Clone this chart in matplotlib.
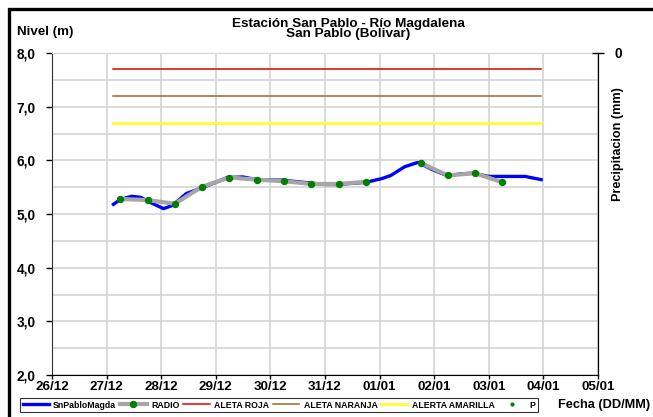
import matplotlib
matplotlib.use('Agg')
import matplotlib.pyplot as plt
import matplotlib.dates as mdates
import matplotlib.patches as mpatches
import pandas as pd
import numpy as np

plt.rcParams['font.family'] = ['Liberation Sans', 'DejaVu Sans']
plt.rcParams['font.weight'] = 'bold'

# Nivel SnPabloMagda (m)
nivel_fechas = ['2010-12-27 03:00', '2010-12-27 06:00', '2010-12-27 11:00', '2010-12-27 15:00',
                '2010-12-27 19:00', '2010-12-28 01:00', '2010-12-28 05:00', '2010-12-28 11:00',
                '2010-12-28 18:00', '2010-12-29 00:00', '2010-12-29 05:00', '2010-12-29 12:00',
                '2010-12-29 18:00', '2010-12-30 05:00', '2010-12-30 17:00', '2010-12-31 00:00',
                '2010-12-31 05:00', '2010-12-31 18:00', '2010-12-31 22:00', '2011-01-01 01:00',
                '2011-01-01 05:00', '2011-01-01 11:00', '2011-01-01 16:00', '2011-01-01 17:00',
                '2011-01-01 23:00', '2011-01-02 06:00', '2011-01-02 12:00', '2011-01-02 17:00',
                '2011-01-03 00:00', '2011-01-03 16:00', '2011-01-03 23:00']
nivel_valores = [5.18, 5.27, 5.33, 5.31, 5.22, 5.10, 5.16, 5.38, 5.49, 5.59, 5.68, 5.69,
                 5.64, 5.63, 5.58, 5.55, 5.55, 5.59, 5.63, 5.66, 5.72, 5.88, 5.95, 5.96,
                 5.83, 5.71, 5.75, 5.76, 5.70, 5.70, 5.64]

# Lecturas RADIO (m), NaN = sin dato
radio_fechas = ['2010-12-27 06:00', '2010-12-27 18:00', '2010-12-28 06:00', '2010-12-28 18:00',
                '2010-12-29 06:00', '2010-12-29 18:00', '2010-12-30 06:00', '2010-12-30 18:00',
                '2010-12-31 06:00', '2010-12-31 18:00', '2011-01-01 06:00', '2011-01-01 18:00',
                '2011-01-02 06:00', '2011-01-02 18:00', '2011-01-03 06:00']
radio_valores = [5.28, 5.26, 5.19, 5.51, 5.68, 5.64, 5.61, 5.56, 5.56, 5.60, np.nan, 5.95,
                 5.72, 5.76, 5.59]

# Umbrales de alerta (m)
alerta_inicio = '2010-12-27 03:00'
alerta_fin = '2011-01-03 23:00'
aleta_roja = 7.7
aleta_naranja = 7.2
alerta_amarilla = 6.7

# Precipitacion (mm) - sin datos
p_fechas = []
p_valores = []

x_inicio = '2010-12-26'
x_fin = '2011-01-05'

nivel_t = pd.to_datetime(nivel_fechas)
radio_t = pd.to_datetime(radio_fechas)
alerta_t = pd.to_datetime([alerta_inicio, alerta_fin])

fig = plt.figure(figsize=(6.53, 4.17), dpi=100)
ax = fig.add_axes([52/653, 42/417, 546/653, 322/417])

ax.plot(nivel_t, nivel_valores, color='#0000ff', lw=2.4, label='SnPabloMagda', zorder=3)
ax.plot(radio_t, radio_valores, color='#a6a6a6', lw=3.0, marker='o', markersize=4.3,
        markerfacecolor='#008000', markeredgecolor='#008000', label='RADIO', zorder=4)
ax.plot(alerta_t, [aleta_roja] * 2, color='#e00000', lw=1.1, label='ALETA ROJA', zorder=2)
ax.plot(alerta_t, [aleta_naranja] * 2, color='#a0642d', lw=1.1, label='ALETA NARANJA', zorder=2)
ax.plot(alerta_t, [alerta_amarilla] * 2, color='#ffff33', lw=2.0, label='ALERTA AMARILLA', zorder=2)

ax.set_xlim(pd.Timestamp(x_inicio), pd.Timestamp(x_fin))
ax.set_ylim(2.0, 8.0)
ax.xaxis.set_major_locator(mdates.DayLocator())
ax.xaxis.set_major_formatter(mdates.DateFormatter('%d/%m'))
ax.set_yticks(np.arange(2, 8.1, 1.0))
ax.set_yticks(np.arange(2, 8.1, 0.5), minor=True)
ax.set_yticklabels([f'{v:.1f}'.replace('.', ',') for v in np.arange(2, 8.1, 1.0)])
ax.grid(True, which='both', color='#d4d4d4', lw=1.2)
ax.set_axisbelow(True)
ax.tick_params(axis='y', which='minor', length=0)
ax.tick_params(axis='y', which='major', length=4, width=1, pad=8, labelsize=9.8, direction='out')
ax.tick_params(axis='x', length=3, width=1, pad=1, labelsize=9.6, direction='out')
for lab in ax.get_xticklabels() + ax.get_yticklabels():
    lab.set_fontweight('bold')
ax.spines['top'].set_color('#d4d4d4')
ax.spines['left'].set_color('#303030')
ax.spines['bottom'].set_color('#000000')

# eje de precipitacion
ax2 = ax.twinx()
ax2.plot(p_fechas, p_valores, linestyle='none', marker='o', markersize=2,
         color='#008000', label='P')
ax2.set_ylim(100, 0)
ax2.set_yticks([0])
ax2.set_yticklabels(['0'], fontweight='bold')
ax2.tick_params(axis='y', length=8, width=1, direction='inout', pad=8, labelsize=9.8)
for s in ['top', 'left', 'bottom']:
    ax2.spines[s].set_visible(False)
ax2.spines['right'].set_color('#000000')

fig.text(348/653, 1 - 23.5/417, 'Estación San Pablo - Río Magdalena', ha='center', va='center',
         fontsize=9.7, fontweight='bold')
fig.text(348/653, 1 - 34.5/417, 'San Pablo (Bolivar)', ha='center', va='center',
         fontsize=9.7, fontweight='bold')
fig.text(17/653, 1 - 32/417, 'Nivel (m)', ha='left', va='center', fontsize=9.6, fontweight='bold')
fig.text(618/653, 1 - 144/417, 'Precipitacion (mm)', rotation=90, ha='center', va='center',
         fontsize=9.1, fontweight='bold')
fig.text(604/653, 1 - 405/417, 'Fecha (DD/MM)', ha='center', va='center',
         fontsize=9.2, fontweight='bold')

h1, l1 = ax.get_legend_handles_labels()
h2, l2 = ax2.get_legend_handles_labels()
leg = fig.legend(h1 + h2, l1 + l2, loc='center', ncol=6, mode='expand',
                 bbox_to_anchor=(16/653, 1 - 412/417, 526/653, 14/417),
                 fontsize=6.3, frameon=True, fancybox=False, borderpad=0.25,
                 handlelength=3.0, handletextpad=0.5, columnspacing=1.0)
leg.get_frame().set_edgecolor('#000000')
leg.get_frame().set_linewidth(0.8)
for t in leg.get_texts():
    t.set_fontweight('bold')

# marco exterior
fig.patches.append(mpatches.Rectangle((8.5/653, -0.05), 1.1, 1 - 8.5/417 + 0.05,
                                      transform=fig.transFigure, fill=False,
                                      edgecolor='black', lw=2.4))

fig.savefig('out.png', dpi=100)
